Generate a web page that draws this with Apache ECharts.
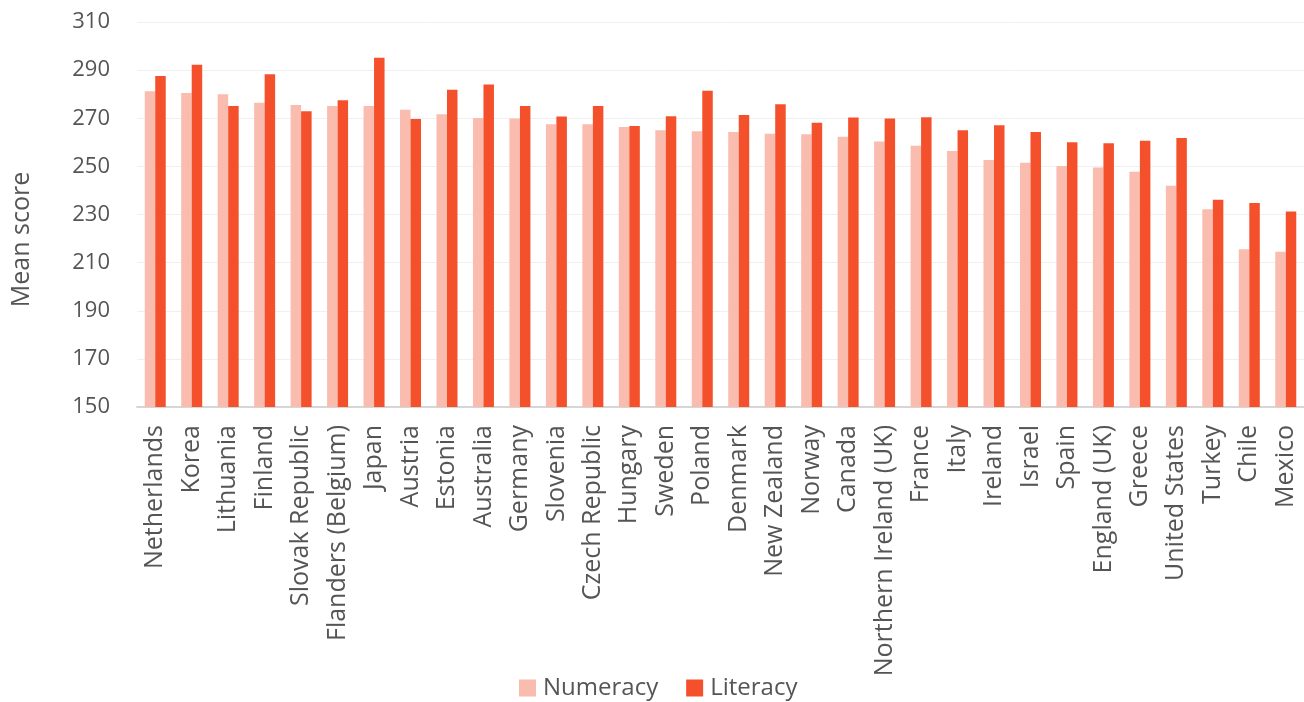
<!DOCTYPE html>
<html>
<head>
<meta charset="utf-8">
<script src="https://cdn.jsdelivr.net/npm/echarts@6/dist/echarts.min.js"></script>
<style>
  html, body { margin: 0; padding: 0; background: #ffffff; }
  #chart { width: 1304px; height: 702px; }
</style>
</head>
<body>
<div id="chart"></div>
<script>
// Mean proficiency scores by country
const countries = [
  'Netherlands', 'Korea', 'Lithuania', 'Finland', 'Slovak Republic',
  'Flanders (Belgium)', 'Japan', 'Austria', 'Estonia', 'Australia',
  'Germany', 'Slovenia', 'Czech Republic', 'Hungary', 'Sweden',
  'Poland', 'Denmark', 'New Zealand', 'Norway', 'Canada',
  'Northern Ireland (UK)', 'France', 'Italy', 'Ireland', 'Israel',
  'Spain', 'England (UK)', 'Greece', 'United States', 'Turkey',
  'Chile', 'Mexico'
];

const numeracy = [
  281.2, 280.5, 280.0, 276.4, 275.5,
  275.1, 275.1, 273.5, 271.7, 270.1,
  269.9, 267.5, 267.5, 266.4, 265.0,
  264.6, 264.3, 263.6, 263.4, 262.3,
  260.3, 258.6, 256.4, 252.7, 251.5,
  250.2, 249.5, 247.8, 242.0, 232.2,
  215.6, 214.5
];

const literacy = [
  287.6, 292.2, 275.1, 288.3, 272.9,
  277.5, 295.1, 269.7, 281.8, 284.0,
  275.1, 270.7, 275.1, 266.8, 270.8,
  281.4, 271.3, 275.8, 268.1, 270.3,
  269.9, 270.4, 265.0, 267.1, 264.3,
  260.0, 259.6, 260.6, 261.8, 236.1,
  234.8, 231.2
];

const yMin = 150, yMax = 310, yStep = 20;

const FONT = 'Open Sans';
const TEXT = '#555555';

const chart = echarts.init(document.getElementById('chart'), null, { renderer: 'canvas' });

chart.setOption({
  animation: false,
  textStyle: { fontFamily: FONT },
  grid: { left: 137, right: 0, top: 22, bottom: 295, containLabel: false },
  legend: {
    top: 673,
    left: 519,
    padding: 0,
    itemWidth: 17,
    itemHeight: 17,
    itemGap: 28,
    icon: 'rect',
    textStyle: { fontFamily: FONT, fontSize: 24, lineHeight: 30, color: TEXT, padding: [0, 0, 0, 2] },
    data: ['Numeracy', 'Literacy']
  },
  xAxis: {
    type: 'category',
    data: countries,
    axisLine: { lineStyle: { color: '#d6d6d6', width: 2 } },
    axisTick: { show: false },
    axisLabel: {
      rotate: 90,
      interval: 0,
      margin: 18,
      fontFamily: FONT,
      fontSize: 25,
      color: TEXT
    }
  },
  yAxis: {
    type: 'value',
    min: yMin,
    max: yMax,
    interval: yStep,
    name: 'Mean score',
    nameLocation: 'middle',
    nameGap: 103,
    nameRotate: 90,
    nameTextStyle: { fontFamily: FONT, fontSize: 25, color: TEXT, padding: [0, 50, 0, 0] },
    axisLine: { show: false },
    axisTick: { show: false },
    axisLabel: { fontFamily: FONT, fontSize: 22, color: TEXT, margin: 27 },
    splitLine: { lineStyle: { color: '#f0f0f0', width: 1 } }
  },
  series: [
    {
      name: 'Numeracy',
      type: 'bar',
      data: numeracy,
      barWidth: 10.5,
      barGap: '0%',
      itemStyle: { color: '#FABCAE' }
    },
    {
      name: 'Literacy',
      type: 'bar',
      data: literacy,
      barWidth: 10.5,
      barGap: '0%',
      itemStyle: { color: '#F4502B' }
    }
  ]
});
</script>
</body>
</html>
